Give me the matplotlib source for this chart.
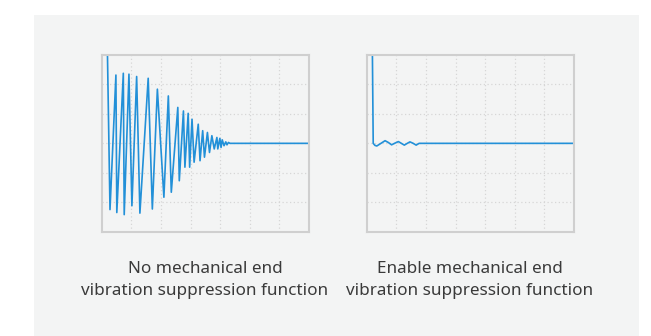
import matplotlib
matplotlib.use("Agg")
import matplotlib.pyplot as plt
from matplotlib.patches import Rectangle

# Left panel: oscillation without suppression (grid units: x 0..7, y -3..3)
left_t = [0.19, 0.28, 0.48, 0.51, 0.73, 0.76, 0.92, 1.02, 1.18, 1.29, 1.57, 1.71,
          1.88, 2.10, 2.25, 2.35, 2.57, 2.62, 2.76, 2.81, 2.92, 2.97, 3.05, 3.12,
          3.26, 3.32, 3.41, 3.47, 3.57, 3.64, 3.72, 3.80, 3.89, 3.92, 3.99, 4.03,
          4.07, 4.13, 4.19, 4.23, 4.28, 4.33, 7.0]
left_y = [3.3, -2.25, 2.32, -2.35, 2.38, -2.42, 2.35, -2.12, 2.27, -2.37, 2.21, -2.23,
          1.84, -1.83, 1.61, -1.66, 1.22, -1.27, 1.10, -0.81, 1.02, -0.81, 0.82, -0.64,
          0.65, -0.59, 0.43, -0.47, 0.37, -0.31, 0.26, -0.19, 0.20, -0.19, 0.17, -0.14,
          0.12, -0.08, 0.05, -0.05, 0.03, 0.0, 0.0]

# Right panel: with suppression
right_t = [0.19, 0.22, 0.28, 0.34, 0.45, 0.62, 0.73, 0.84, 0.96, 1.07, 1.17, 1.27,
           1.37, 1.46, 1.57, 1.67, 1.77, 7.0]
right_y = [3.3, 0.0, -0.07, -0.09, -0.02, 0.09, 0.03, -0.05, 0.01, 0.06, 0.0, -0.06,
           0.0, 0.05, 0.0, -0.06, 0.0, 0.0]

captions = ["No mechanical end\nvibration suppression function",
            "Enable mechanical end\nvibration suppression function"]

W, H = 651, 336
fig = plt.figure(figsize=(W / 100, H / 100), dpi=100)
fig.patch.set_facecolor("white")

bg = "#f3f4f4"
fig.patches.append(Rectangle((33.5 / W, 0), (638.7 - 33.5) / W, (H - 15) / H,
                             transform=fig.transFigure, facecolor=bg,
                             edgecolor="none", zorder=-5))

line_color = "#2290d8"
panels = [(101.7, left_t, left_y, 205), (366.7, right_t, right_y, 470)]
for (x0, t, y, cx), cap in zip(panels, captions):
    ax = fig.add_axes([x0 / W, (H - 231.7) / H, 207.3 / W, 176.7 / H])
    ax.set_zorder(2)
    ax.set_facecolor(bg)
    ax.set_xlim(0, 7)
    ax.set_ylim(-3, 3)
    ax.set_xticks(range(1, 7))
    ax.set_yticks(range(-2, 3))
    ax.tick_params(length=0, labelbottom=False, labelleft=False)
    ax.grid(True, color="#d6d6d6", linestyle=(0, (1, 2)), linewidth=0.9)
    for s in ax.spines.values():
        s.set_color("#cfcfcf")
        s.set_linewidth(1.5)
    ax.plot(t, y, color=line_color, lw=1.2, solid_joinstyle="round")
    fig.text(cx / W, 1 - 280 / H, cap, ha="center", va="center",
             fontsize=12.3, family=["Noto Sans", "DejaVu Sans"], color="#3a3a3a",
             linespacing=1.5)

fig.savefig("out.png", dpi=100, facecolor="white")
